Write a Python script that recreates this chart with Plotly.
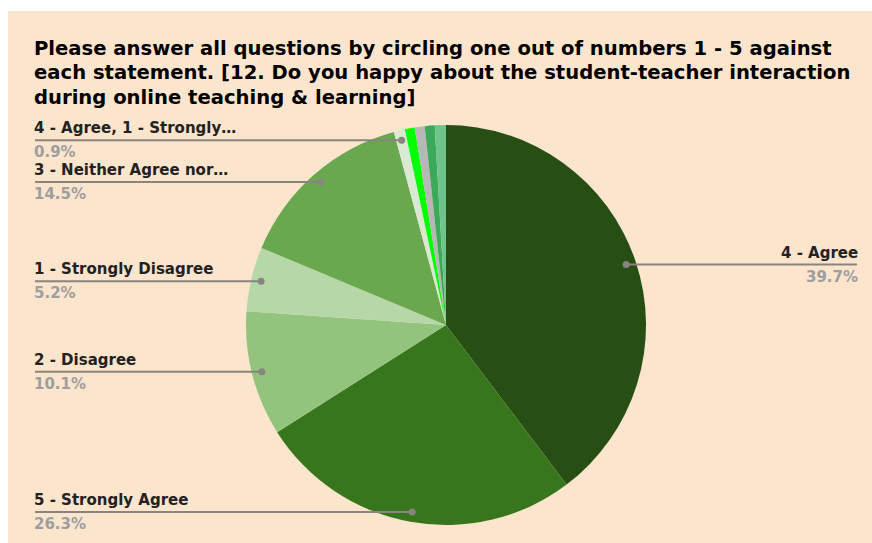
import math
import plotly.graph_objects as go

title_lines = [
    "Please answer all questions by circling one out of numbers 1 - 5 against",
    "each statement. [12. Do you happy about the student-teacher interaction",
    "during online teaching & learning]",
]
categories = [
    "4 - Agree",
    "5 - Strongly Agree",
    "2 - Disagree",
    "1 - Strongly Disagree",
    "3 - Neither Agree nor Disagree",
    "4 - Agree, 1 - Strongly Disagree",
    "5 - Strongly Agree, 4 - Agree",
    "3 - Neither Agree nor Disagree, 4 - Agree",
    "2 - Disagree, 3 - Neither Agree nor Disagree",
    "5 - Strongly Agree, 3 - Neither Agree nor Disagree",
]
display_labels = [
    "4 - Agree",
    "5 - Strongly Agree",
    "2 - Disagree",
    "1 - Strongly Disagree",
    "3 - Neither Agree nor…",
    "4 - Agree, 1 - Strongly…",
    None, None, None, None,
]
values = [39.7, 26.3, 10.1, 5.2, 14.5, 0.9, 0.8, 0.8, 0.8, 0.9]
colors = ["#274e13", "#38761d", "#93c47d", "#b6d7a8", "#6aa84f",
          "#d9ead3", "#00ff00", "#b7b7b7", "#3aa95a", "#6fc48c"]

W, H = 872, 543
CX, CY, R = 446, 325, 200
LEFT_X, RIGHT_X = 35, 857
BG = "#fce5cd"
LINE_C = "#8a8480"
FONT = "DejaVu Sans, Arial"


def px(x):
    return x / W


def py(y):
    return 1 - y / H


fig = go.Figure(go.Pie(
    labels=categories,
    values=values,
    sort=False,
    direction="clockwise",
    rotation=0,
    marker=dict(colors=colors, line=dict(width=0)),
    textinfo="none",
    hoverinfo="label+percent",
    showlegend=False,
    domain=dict(x=[px(CX - R), px(CX + R)], y=[py(CY + R), py(CY - R)]),
))

shapes = [
    dict(type="rect", xref="paper", yref="paper", x0=0, x1=1, y0=py(11), y1=1,
         fillcolor="#ffffff", line=dict(width=0), layer="below"),
    dict(type="rect", xref="paper", yref="paper", x0=0, x1=px(8), y0=0, y1=1,
         fillcolor="#ffffff", line=dict(width=0), layer="below"),
]
annotations = []
for i, t in enumerate(title_lines):
    annotations.append(dict(
        text=f"<b>{t}</b>",
        xref="paper", yref="paper", x=px(LEFT_X - 3), y=py(48 + 24.5 * i),
        xanchor="left", yanchor="middle", align="left", showarrow=False,
        font=dict(family=FONT, size=19.6, color="#000000"),
    ))

total = sum(values)
cum = 0.0
for v, lab in zip(values, display_labels):
    mid = (cum + v / 2) / total * 2 * math.pi
    cum += v
    if lab is None:
        continue
    dx = CX + 0.95 * R * math.sin(mid)
    dy = CY - 0.95 * R * math.cos(mid)
    right = math.sin(mid) > 0
    ex = RIGHT_X if right else LEFT_X
    shapes.append(dict(type="line", xref="paper", yref="paper", x0=px(ex), x1=px(dx),
                       y0=py(dy), y1=py(dy), line=dict(color=LINE_C, width=2), layer="above"))
    shapes.append(dict(type="circle", xref="paper", yref="paper",
                       x0=px(dx - 3.5), x1=px(dx + 3.5), y0=py(dy + 3.5), y1=py(dy - 3.5),
                       fillcolor=LINE_C, line=dict(width=0), layer="above"))
    pct = f"{v / total * 100:.1f}%"
    anchor = "right" if right else "left"
    tx = ex - 3 if not right else ex + 3
    annotations.append(dict(text=f"<b>{lab}</b>", xref="paper", yref="paper",
                            x=px(tx), y=py(dy - 1), xanchor=anchor, yanchor="bottom",
                            showarrow=False, align=anchor,
                            font=dict(family=FONT, size=15, color="#222222")))
    annotations.append(dict(text=f"<b>{pct}</b>", xref="paper", yref="paper",
                            x=px(tx), y=py(dy + 1), xanchor=anchor, yanchor="top",
                            showarrow=False, align=anchor,
                            font=dict(family=FONT, size=15, color="#9e9e9e")))

fig.update_layout(
    width=W, height=H,
    margin=dict(l=0, r=0, t=0, b=0),
    paper_bgcolor=BG,
    plot_bgcolor=BG,
    shapes=shapes,
    annotations=annotations,
)

fig.write_html("out.html", config={"displayModeBar": False},
               post_script="document.body.style.margin='0';document.body.style.overflow='hidden';")
